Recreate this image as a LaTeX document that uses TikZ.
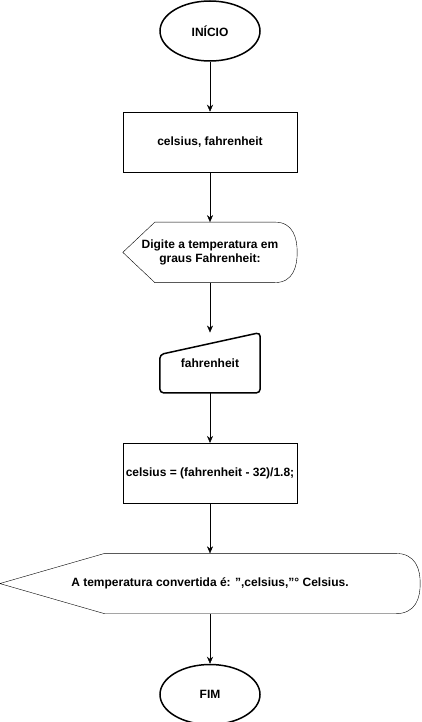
\documentclass[tikz,border=0pt]{standalone}
\usepackage{fontspec}
\setmainfont{Liberation Sans}
\usetikzlibrary{positioning, shapes.geometric, arrows.meta}

\begin{document}
\begin{tikzpicture}[
        x=1pt, y=1pt,
        % frecce come nel diagramma originale
        >={Stealth[length=7pt, width=6pt]},
        every node/.style={font=\bfseries\fontsize{12}{14}\selectfont, align=center, inner sep=0pt},
        terminal/.style={draw, ellipse, line width=1.5pt, minimum width=100pt, minimum height=60pt},
        process/.style={draw, rectangle, minimum width=174pt, minimum height=60pt},
        % forme disegnate a mano attorno al testo
        displaybox/.style={minimum height=60pt},
        inputbox/.style={minimum width=100pt, minimum height=60pt},
        node distance=50pt
    ]
        \useasboundingbox (0,0) rectangle (421,-722);

        % Nodi
        \node[terminal] (inizio) at (210,-31) {INÍCIO};
        \node[process, below=of inizio] (decl) {celsius, fahrenheit};
        \node[displaybox, minimum width=174pt, below=of decl] (msg) {Digite a temperatura em\\graus Fahrenheit:};
        \node[inputbox, below=of msg] (leitura) {fahrenheit};
        \node[process, below=of leitura] (calc) {celsius = (fahrenheit - 32)/1.8;};
        \node[displaybox, minimum width=420pt, below=of calc] (saida) {A temperatura convertida é: ",celsius,"° Celsius.};
        \node[terminal, below=of saida] (fim) {FIM};

        % Forme di visualizzazione
        \draw (msg.west) -- ([xshift=32pt]msg.north west) -- ([xshift=-22pt]msg.north east)
            .. controls ([xshift=-4pt]msg.north east) and ([yshift=14pt]msg.east) .. (msg.east)
            .. controls ([yshift=-14pt]msg.east) and ([xshift=-4pt]msg.south east) .. ([xshift=-22pt]msg.south east)
            -- ([xshift=32pt]msg.south west) -- cycle;
        \draw (saida.west) -- ([xshift=105pt]saida.north west) -- ([xshift=-25pt]saida.north east)
            .. controls ([xshift=-4pt]saida.north east) and ([yshift=14pt]saida.east) .. (saida.east)
            .. controls ([yshift=-14pt]saida.east) and ([xshift=-4pt]saida.south east) .. ([xshift=-25pt]saida.south east)
            -- ([xshift=105pt]saida.south west) -- cycle;

        % Input manuale
        \draw[line width=1.5pt, rounded corners=4pt] ([yshift=-22pt]leitura.north west) -- (leitura.north east)
            -- (leitura.south east) -- (leitura.south west) -- cycle;

        % Frecce
        \draw[->] (inizio) -- (decl);
        \draw[->] (decl) -- (msg);
        \draw[->] (msg) -- (leitura);
        \draw[->] (leitura) -- (calc);
        \draw[->] (calc) -- (saida);
        \draw[->] (saida) -- (fim);

    \end{tikzpicture}
\end{document}
